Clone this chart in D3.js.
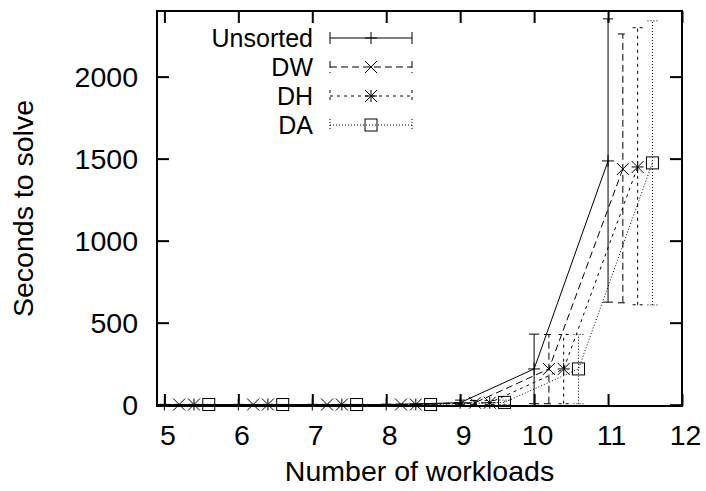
<!DOCTYPE html>
<html><head><meta charset="utf-8">
<script src="https://cdn.jsdelivr.net/npm/d3@7"></script>
<style>body{margin:0;background:#fff}svg{display:block}text{font-family:"Liberation Sans",Arial,Helvetica,sans-serif;fill:#000}</style>
</head><body>
<script>
// ---- data ----
const workloads = [5, 6, 7, 8, 9, 10, 11];
const seriesNames = ["Unsorted", "DW", "DH", "DA"];
const xOffsets = [0, 0.2, 0.4, 0.6];
const unsortedMean = [1, 1, 1, 1, 12, 218, 1486];
const unsortedLow  = [0, 0, 0, 0, 0, 6, 625];
const unsortedHigh = [2, 2, 2, 3, 28, 430, 2352];
const dwMean = [1, 1, 1, 1, 12, 218, 1437];
const dwLow  = [0, 0, 0, 0, 0, 6, 621];
const dwHigh = [2, 2, 2, 3, 26, 428, 2260];
const dhMean = [1, 1, 1, 1, 12, 218, 1449];
const dhLow  = [0, 0, 0, 0, 0, 6, 609];
const dhHigh = [2, 2, 2, 3, 26, 428, 2298];
const daMean = [1, 1, 1, 1, 14, 218, 1474];
const daLow  = [0, 0, 0, 0, 0, 6, 608];
const daHigh = [2, 2, 2, 3, 28, 428, 2340];
const xTicks = [5, 6, 7, 8, 9, 10, 11, 12];
const yTicks = [0, 500, 1000, 1500, 2000];
const xTitle = "Number of workloads";
const yTitle = "Seconds to solve";

const means = [unsortedMean, dwMean, dhMean, daMean];
const lows = [unsortedLow, dwLow, dhLow, daLow];
const highs = [unsortedHigh, dwHigh, dhHigh, daHigh];
const dashes = [null, "7,4", "3,4", "1,2"];
const markers = ["plus", "cross", "star", "box"];

const W = 706, H = 491;
const L = 157, R = 682, T = 11, B = 406;
const x = d3.scaleLinear().domain([4.9, 12]).range([L, R]);
const y = d3.scaleLinear().domain([-8, 2400]).range([B, T]);

const svg = d3.select("body").append("svg").attr("width", W).attr("height", H);
const FS = 28.5;
const LFS = 25;

function drawMarker(g, type, cx, cy) {
  const s = 6;
  const p = g.append("g").attr("fill", "none").attr("stroke", "#000").attr("stroke-width", 1);
  if (type === "plus" || type === "star") {
    p.append("line").attr("x1", cx - s).attr("x2", cx + s).attr("y1", cy).attr("y2", cy);
    p.append("line").attr("x1", cx).attr("x2", cx).attr("y1", cy - s).attr("y2", cy + s);
  }
  if (type === "cross" || type === "star") {
    p.append("line").attr("x1", cx - s).attr("x2", cx + s).attr("y1", cy - s).attr("y2", cy + s);
    p.append("line").attr("x1", cx - s).attr("x2", cx + s).attr("y1", cy + s).attr("y2", cy - s);
  }
  if (type === "box") {
    p.append("rect").attr("x", cx - s).attr("y", cy - s).attr("width", 2 * s).attr("height", 2 * s);
  }
}

// data
const plot = svg.append("g");
seriesNames.forEach((name, si) => {
  const g = plot.append("g");
  const pts = workloads.map((w, i) => ({ x: w + xOffsets[si], m: means[si][i], lo: lows[si][i], hi: highs[si][i] }));
  const line = d3.line().x(d => x(d.x)).y(d => y(d.m));
  g.append("path").datum(pts).attr("d", line).attr("fill", "none").attr("stroke", "#000")
    .attr("stroke-width", 1).attr("stroke-dasharray", dashes[si]);
  const cap = 5;
  pts.forEach(d => {
    const eb = g.append("g").attr("stroke", "#000").attr("stroke-width", 1).attr("stroke-dasharray", dashes[si]);
    eb.append("line").attr("x1", x(d.x)).attr("x2", x(d.x)).attr("y1", y(d.lo)).attr("y2", y(d.hi));
    eb.append("line").attr("x1", x(d.x) - cap).attr("x2", x(d.x) + cap).attr("y1", y(d.lo)).attr("y2", y(d.lo));
    eb.append("line").attr("x1", x(d.x) - cap).attr("x2", x(d.x) + cap).attr("y1", y(d.hi)).attr("y2", y(d.hi));
    drawMarker(g, markers[si], x(d.x), y(d.m));
  });
});

// frame & ticks
const axG = svg.append("g");
axG.append("rect").attr("x", L).attr("y", T).attr("width", R - L).attr("height", B - T)
  .attr("fill", "none").attr("stroke", "#000").attr("stroke-width", 2);
const tl = 12;
const xb = axG.append("g").attr("transform", `translate(0,${B})`).call(d3.axisBottom(x).tickValues(xTicks).tickSize(-tl).tickFormat(d3.format("d")));
const xt = axG.append("g").attr("transform", `translate(0,${T})`).call(d3.axisTop(x).tickValues(xTicks).tickSize(-tl).tickFormat(""));
const yl = axG.append("g").attr("transform", `translate(${L},0)`).call(d3.axisLeft(y).tickValues(yTicks).tickSize(-tl).tickFormat(d3.format("d")));
const yr = axG.append("g").attr("transform", `translate(${R},0)`).call(d3.axisRight(y).tickValues(yTicks).tickSize(-tl).tickFormat(""));
[xb, xt, yl, yr].forEach(a => {
  a.select(".domain").remove();
  a.selectAll(".tick line").attr("stroke", "#000").attr("stroke-width", 2);
  a.selectAll("text").attr("font-size", FS).attr("font-family", '"Liberation Sans",Arial,sans-serif').attr("fill", "#000");
});
xb.selectAll(".tick text").attr("y", 0).attr("dy", null).attr("transform", "translate(3,39)");
yl.selectAll(".tick text").attr("x", -19).attr("dy", "0.35em");

// titles
svg.append("text").attr("x", (L + R) / 2).attr("y", 481).attr("text-anchor", "middle").attr("font-size", FS).text(xTitle);
svg.append("text").attr("transform", `translate(33,${(T + B) / 2}) rotate(-90)`).attr("text-anchor", "middle").attr("font-size", FS).text(yTitle);

// legend
const lg = svg.append("g");
const ly0 = 38, ldy = 29, lx1 = 330, lx2 = 412, lxm = 371;
seriesNames.forEach((name, si) => {
  const yy = ly0 + si * ldy;
  lg.append("text").attr("x", 313).attr("y", yy).attr("dy", "0.35em").attr("text-anchor", "end").attr("font-size", LFS).text(name);
  const g = lg.append("g").attr("stroke", "#000").attr("stroke-width", 1).attr("stroke-dasharray", dashes[si]);
  g.append("line").attr("x1", lx1).attr("x2", lx2).attr("y1", yy).attr("y2", yy);
  g.append("line").attr("x1", lx1).attr("x2", lx1).attr("y1", yy - 6).attr("y2", yy + 6);
  g.append("line").attr("x1", lx2).attr("x2", lx2).attr("y1", yy - 6).attr("y2", yy + 6);
  drawMarker(lg, markers[si], lxm, yy);
});
</script>
</body></html>
